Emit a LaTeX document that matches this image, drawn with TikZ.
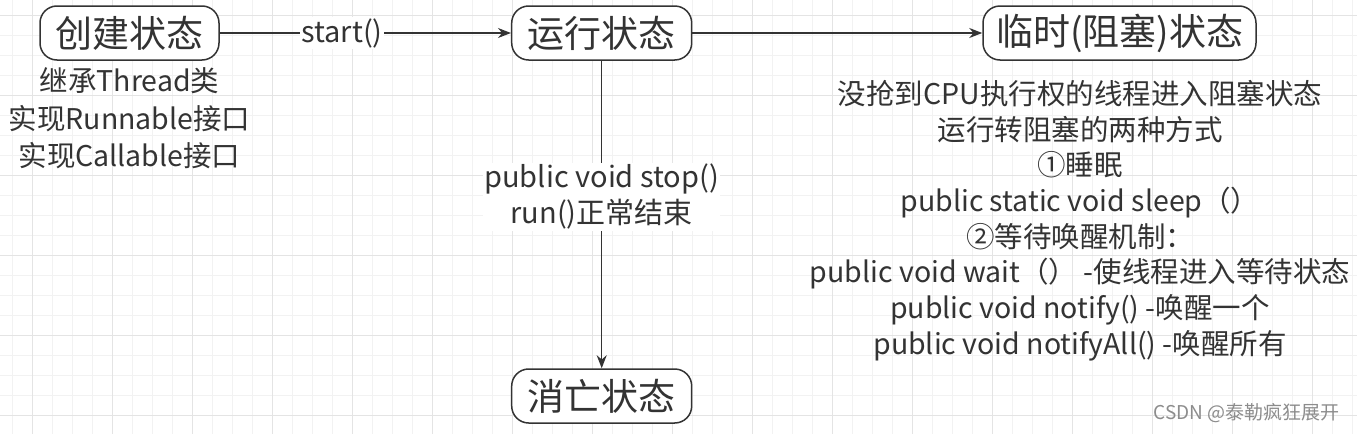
\documentclass[tikz,border=0pt]{standalone}
\usepackage{fontspec}
\setmainfont{Noto Sans CJK SC}
\usetikzlibrary{arrows.meta}
\definecolor{ink}{HTML}{333333}
\definecolor{gridminor}{HTML}{F2F2F2}
\definecolor{gridmajor}{HTML}{E4E4E4}
\tikzset{
  state/.style={draw=ink, line width=1.5pt, rounded corners=17pt, fill=white,
    minimum height=54pt, inner sep=0pt, text=ink, font=\fontsize{37}{42}\selectfont},
  conn/.style={draw=ink, line width=1.5pt, -{Stealth[length=13pt,width=10pt]}},
  lbl/.style={fill=white, text=ink, inner sep=1pt, align=center, font=\fontsize{29}{36}\selectfont},
  info/.style={text=ink, align=center, inner sep=0pt},
  wmark/.style={text=black!45, inner sep=0pt, font=\fontsize{19}{20}\selectfont}
}
\begin{document}
\begin{tikzpicture}[x=1pt,y=-1pt]
\useasboundingbox (0,0) rectangle (1357,434);
\fill[white] (0,0) rectangle (1357,434);
% grid
\foreach \k in {0,...,67} {\draw[gridminor, line width=1pt] (12.7+20*\k,0) -- (12.7+20*\k,434);}
\foreach \k in {0,...,21} {\draw[gridminor, line width=1pt] (0,15+20*\k) -- (1357,15+20*\k);}
\foreach \k in {0,...,16} {\draw[gridmajor, line width=1pt] (32.7+80*\k,0) -- (32.7+80*\k,434);}
\foreach \k in {0,...,5} {\draw[gridmajor, line width=1pt] (0,15+80*\k) -- (1357,15+80*\k);}

% states
\node[state, minimum width=179pt] (create) at (129.5,33) {创建状态};
\node[state, minimum width=180pt] (run) at (601.7,33) {运行状态};
\node[state, minimum width=273pt] (block) at (1119.5,33) {临时(阻塞)状态};
\node[state, minimum width=180pt] (dead) at (601.7,396) {消亡状态};

% connectors
\draw[conn] (create) -- node[lbl, pos=0.42] (startlbl) {start()} (run);
\draw[conn] (run) -- (block);
\draw[conn] (run) -- node[lbl, pos=0.443] (stoplbl) {public void stop()\\run()正常结束} (dead);

% info texts
\node[info, font=\fontsize{28.5}{37.5}\selectfont] (createinfo) at (129.5,118.5)
  {继承Thread类\\实现Runnable接口\\实现Callable接口};
\node[info, font=\fontsize{28.5}{35.7}\selectfont] (blockinfo) at (1080,220.5)
  {没抢到CPU执行权的线程进入阻塞状态\\运行转阻塞的两种方式\\①睡眠\\public static void sleep（）\\②等待唤醒机制：\\public void wait（） -使线程进入等待状态\\public void notify() -唤醒一个\\public void notifyAll() -唤醒所有};

% watermark
\node[wmark, anchor=east] (wm) at (1340,413) {CSDN @泰勒疯狂展开};
\end{tikzpicture}
\end{document}
